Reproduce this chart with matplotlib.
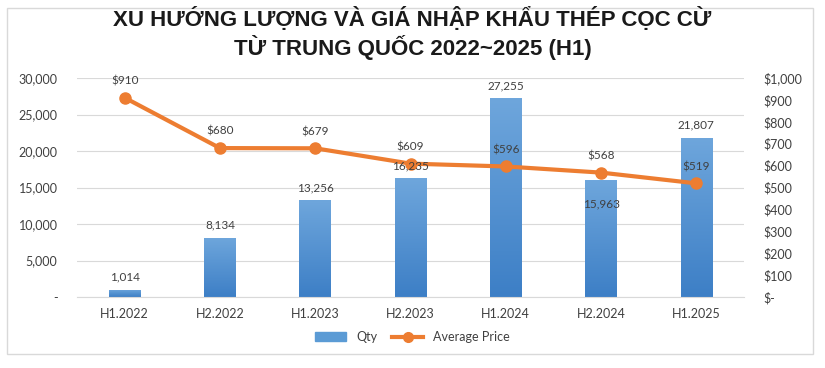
import numpy as np
import matplotlib
matplotlib.use('Agg')
import matplotlib.pyplot as plt
from matplotlib.patches import Rectangle
from matplotlib.lines import Line2D
from matplotlib.patches import Patch
from matplotlib.colors import LinearSegmentedColormap

periods = ["H1.2022", "H2.2022", "H1.2023", "H2.2023", "H1.2024", "H2.2024", "H1.2025"]
qty = [1014, 8134, 13256, 16235, 27255, 15963, 21807]
price = [910, 680, 679, 609, 596, 568, 519]
qty_ticks = [0, 5000, 10000, 15000, 20000, 25000, 30000]
price_ticks = [0, 100, 200, 300, 400, 500, 600, 700, 800, 900, 1000]

title = "XU HƯỚNG LƯỢNG VÀ GIÁ NHẬP KHẨU THÉP CỌC CỪ\nTỪ TRUNG QUỐC 2022~2025 (H1)"

plt.rcParams['font.family'] = ['Lato', 'DejaVu Sans']
txt = '#404040'

fig = plt.figure(figsize=(8.25, 3.68), dpi=100)
ax = fig.add_axes([77 / 825, 1 - 297 / 368, 667 / 825, 219 / 368])
ax2 = ax.twinx()

# outer chart border
fig.patches.append(Rectangle((7 / 825, 1 - 354 / 368), 806 / 825, 346 / 368,
                             transform=fig.transFigure, fill=False,
                             edgecolor='#d9d9d9', linewidth=1))

x = np.arange(len(periods))
bars = ax.bar(x, qty, width=0.33, color='#5b9bd5', zorder=2)
ax.set_xlim(-0.5, len(periods) - 0.5)
ax.set_ylim(0, 30000)

# vertical gradient on the bars
grad = LinearSegmentedColormap.from_list('g', ['#3d7fc6', '#6ea6dc'])
for b in bars:
    bx, by = b.get_x(), b.get_y()
    bw, bh = b.get_width(), b.get_height()
    im = ax.imshow(np.linspace(0, 1, 100).reshape(-1, 1), cmap=grad, origin='lower',
                   extent=[bx, bx + bw, by, by + bh], aspect='auto', zorder=2)
    im.set_clip_path(b)
ax.set_xlim(-0.5, len(periods) - 0.5)
ax.set_ylim(0, 30000)

ax.set_yticks(qty_ticks)
ax.set_yticklabels(['-'] + [f"{v:,}" for v in qty_ticks[1:]])
ax.set_xticks(x)
ax.set_xticklabels(periods)
ax.grid(axis='y', color='#d9d9d9', linewidth=0.8, zorder=0)
ax.set_axisbelow(True)

ax2.plot(x, price, color='#ed7d31', linewidth=3, marker='o', markersize=8, zorder=3)
ax2.set_ylim(0, 1000)
ax2.set_yticks(price_ticks)
ax2.set_yticklabels(['$-'] + [f"${v:,}" for v in price_ticks[1:]])
for i, v in enumerate(price):
    ax2.annotate(f"${v}", (x[i], v), xytext=(0, 8), textcoords='offset points',
                 ha='center', va='bottom', fontsize=8.5, color=txt, zorder=5)

# qty labels drawn on the top axes so the line doesn't cover them
for i, v in enumerate(qty):
    off = -13 if periods[i] == "H2.2024" else 5
    va = 'top' if off < 0 else 'bottom'
    ax2.annotate(f"{v:,}", (x[i], v), xycoords=ax.transData, xytext=(0, off),
                 textcoords='offset points', ha='center', va=va, fontsize=8.5,
                 color=txt, zorder=5)

for a in (ax, ax2):
    for s in a.spines.values():
        s.set_visible(False)
    a.tick_params(length=0, labelsize=9, colors=txt)
ax.spines['bottom'].set_visible(True)
ax.spines['bottom'].set_color('#d9d9d9')
ax.tick_params(axis='x', pad=8)
ax.tick_params(axis='y', pad=14)
ax2.tick_params(axis='y', pad=14)

fig.text(0.5, 1 - 33 / 368, title, ha='center', va='center', fontsize=16,
         fontweight='bold', color='#1a1a1a', linespacing=1.2,
         family=['Liberation Sans Narrow', 'Liberation Sans', 'DejaVu Sans'])

handles = [Patch(color='#5b9bd5', label='Qty'),
           Line2D([0], [0], color='#ed7d31', linewidth=3, marker='o', markersize=7,
                  label='Average Price')]
fig.legend(handles=handles, loc='center', bbox_to_anchor=(0.5, 1 - 337 / 368),
           ncol=2, frameon=False, fontsize=9, handlelength=2.5, columnspacing=1.2,
           labelcolor=txt)

fig.savefig('out.png', dpi=100)
